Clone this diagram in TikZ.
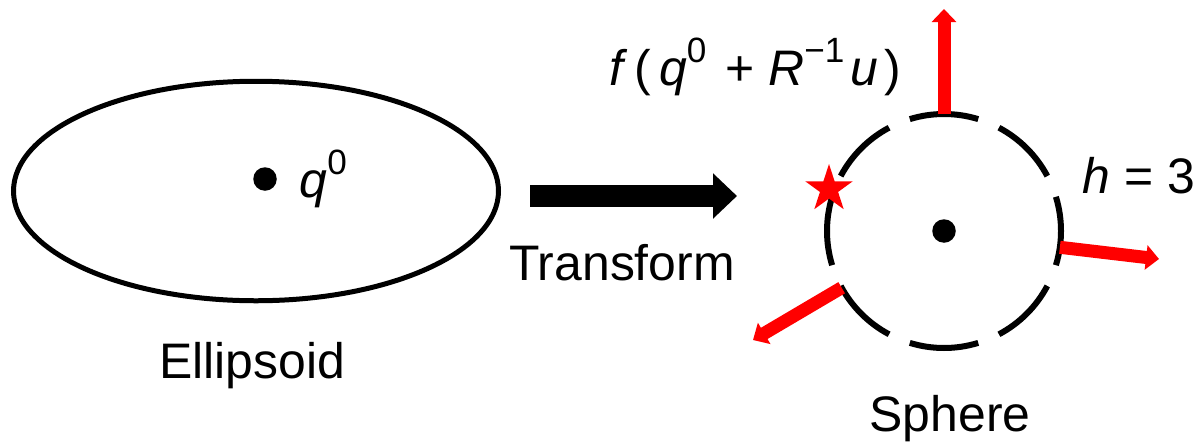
\documentclass[tikz,border=0pt]{standalone}
\usepackage{fontspec}
\setmainfont{Liberation Sans}
\usepackage{xcolor}
\usepackage{tikz}
\usetikzlibrary{shapes.geometric,arrows.meta}
\definecolor{normred}{RGB}{255,0,0}
\newcommand{\upidx}[1]{\raisebox{0.46em}{\fontsize{10}{12}\selectfont #1}}

\tikzset{
  lbl/.style={inner sep=0pt, font=\fontsize{14.2}{17}\selectfont},
  dotnode/.style={circle, fill=black, inner sep=0pt, minimum size=0.235cm},
  sphereline/.style={line width=0.06cm},
  bigarrow/.style={line width=0.22cm, -{Triangle[width=0.44cm,length=0.24cm]}},
  normarrow/.style={normred, line width=0.13cm, -{Triangle[width=0.24cm,length=0.13cm]}}
}

\begin{document}
\begin{tikzpicture}
  \useasboundingbox (0,0) rectangle (11.98,4.41);
  \def\R{1.17}

  % ellipsoid on the left
  \node[ellipse, draw, line width=0.05cm, minimum width=4.85cm,
        minimum height=2.195cm, inner sep=0pt, outer sep=0pt] (ellipsoid) at (2.56,2.50) {};
  \node[dotnode] (qdot) at (2.65,2.62) {};
  \node[lbl, anchor=base west] (qlab) at (2.99,2.44) {\textit{q}\upidx{0}};
  \node[lbl, anchor=base] (elab) at (2.52,0.63) {Ellipsoid};

  % transform arrow
  \coordinate (tfrom) at (5.30,2.45);
  \coordinate (tto) at (7.37,2.45);
  \draw[bigarrow] (tfrom) -- (tto);
  \node[lbl, anchor=base] (tlab) at (6.22,1.61) {Transform};

  % sphere on the right, 8 dashes
  \node[circle, minimum size=2*\R cm, inner sep=0pt, outer sep=0pt] (sphere) at (9.44,2.10) {};
  \foreach \a in {0,45,...,315}
    \draw[sphereline] ([shift={(\a-17:\R)}]sphere.center) arc[start angle=\a-17, end angle=\a+17, radius=\R];
  \node[dotnode] (cdot) at (sphere.center) {};
  \node[lbl, anchor=base] (slab) at (9.50,0.10) {Sphere};

  % normals
  \coordinate (ntop) at (9.44,4.32);
  \coordinate (nright) at (11.59,1.82);
  \coordinate (nleft) at (7.53,1.01);
  \draw[normarrow] (sphere.90) -- (ntop);
  \draw[normarrow] (sphere.-8.5) -- (nright);
  \draw[normarrow] (sphere.209) -- (nleft);

  % sample point
  \node[star, star points=5, star point ratio=2.618, fill=normred, inner sep=0pt,
        minimum size=0.5cm] (smp) at (8.29,2.52) {};

  % labels
  \node[lbl, anchor=base] (flab) at (7.55,3.56)
    {\textit{f}\hspace{0.15em}(\hspace{0.15em}\textit{q}\upidx{0}\hspace{0.1em} + \textit{R}\upidx{−1}\hspace{0.12em}\textit{u}\hspace{0.12em})};
  \node[lbl, anchor=base west] (hlab) at (10.82,2.48) {\textit{h} = 3};
\end{tikzpicture}
\end{document}
